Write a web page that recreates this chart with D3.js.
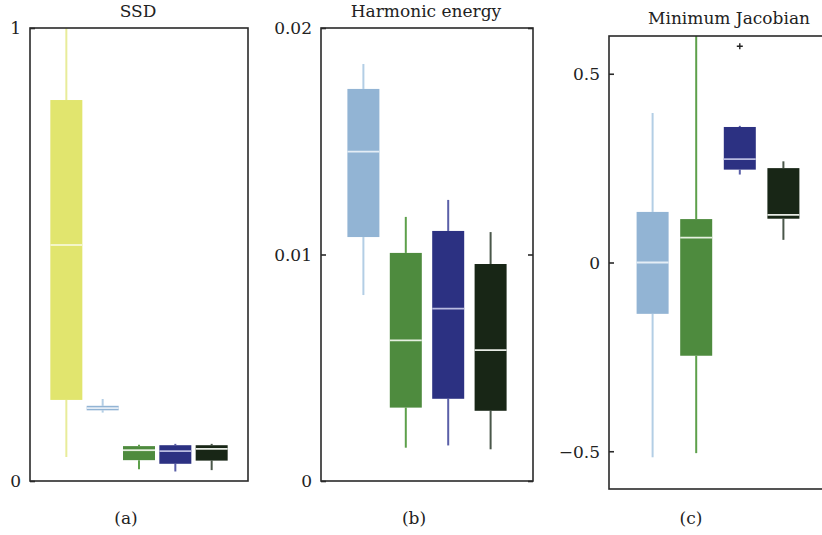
<!DOCTYPE html>
<html>
<head>
<meta charset="utf-8">
<script src="https://cdn.jsdelivr.net/npm/d3@7"></script>
<style>
  body { margin: 0; background: #fff; }
  svg { display: block; }
  svg text { font-family: "DejaVu Serif", "Liberation Serif", serif; }
  .frame { fill: none; stroke: #2a2a2a; stroke-width: 1.6; }
  .tick text { font-size: 17px; fill: #222; }
  .tick line { stroke: #2a2a2a; stroke-width: 1.6; }
  .title, .caption { font-size: 17px; fill: #222; text-anchor: middle; }
</style>
</head>
<body>
<svg width="822" height="535"></svg>
<script>
// box stats: [whisker low, q1, median, q3, whisker high]
const ssdStats = [
  [0.053, 0.179, 0.521, 0.841, 1.0],
  [0.151, 0.156, 0.161, 0.166, 0.181],
  [0.026, 0.046, 0.068, 0.077, 0.080],
  [0.021, 0.038, 0.066, 0.079, 0.082],
  [0.024, 0.045, 0.071, 0.079, 0.082]
]
const harmonicStats = [
  [0.00821, 0.01077, 0.01454, 0.01731, 0.01841],
  [0.00147, 0.00324, 0.00621, 0.01007, 0.01166],
  [0.00157, 0.00363, 0.00761, 0.01104, 0.01241],
  [0.00140, 0.00310, 0.00578, 0.00958, 0.01099]
]
const jacobianStats = [
  [-0.516, -0.136, 0.000, 0.134, 0.396],
  [-0.505, -0.247, 0.066, 0.115, 0.600],
  [0.233, 0.246, 0.274, 0.359, 0.362],
  [0.060, 0.116, 0.126, 0.250, 0.268]
]
// outliers: [box index, value]
const jacobianOutliers = [[2, 0.573]]

const ssdTicks = [0, 1]
const harmonicTicks = [0, 0.01, 0.02]
const jacobianTicks = [-0.5, 0, 0.5]

const titles = ["SSD", "Harmonic energy", "Minimum Jacobian"]
const captions = ["(a)", "(b)", "(c)"]

const palette = {
  yellow: { fill: "#e1e56e", whisker: "#e8ec9a", median: "#f4f6c8" },
  light:  { fill: "#92b4d4", whisker: "#b3cee5", median: "#e4edf6" },
  green:  { fill: "#4e8b3e", whisker: "#5da04b", median: "#e6f0e0" },
  blue:   { fill: "#2c3182", whisker: "#5a5fa8", median: "#b9bbe0" },
  dark:   { fill: "#182616", whisker: "#4a574a", median: "#e8ece6" }
}

const panels = [
  { stats: ssdStats, colors: ["yellow", "light", "green", "blue", "dark"],
    domain: [0, 1], ticks: ssdTicks, fmt: d => d3.format("")(d),
    left: 30, right: 248, top: 28, bottom: 481, rightTicks: false,
    titleY: 17, outliers: [] },
  { stats: harmonicStats, colors: ["light", "green", "blue", "dark"],
    domain: [0, 0.02], ticks: harmonicTicks, fmt: d => d === 0 ? "0" : d3.format(".2f")(d),
    left: 321, right: 533, top: 28, bottom: 481, rightTicks: true,
    titleY: 17, outliers: [] },
  { stats: jacobianStats, colors: ["light", "green", "blue", "dark"],
    domain: [-0.6, 0.6], ticks: jacobianTicks, fmt: d => d === 0 ? "0" : (d < 0 ? "\u2212" : "") + d3.format(".1f")(Math.abs(d)),
    left: 609, right: 827, top: 36, bottom: 489, rightTicks: false,
    titleY: 24, outliers: jacobianOutliers }
]

const svg = d3.select("svg")
const boxW = 32

panels.forEach((p, pi) => {
  const n = p.stats.length
  const x = d3.scaleLinear().domain([0, n + 1]).range([p.left, p.right])
  const y = d3.scaleLinear().domain(p.domain).range([p.bottom, p.top])
  const g = svg.append("g")

  const axis = d3.axisLeft(y).tickValues(p.ticks).tickSize(-5).tickPadding(9).tickFormat(p.fmt)
  const ax = g.append("g").attr("transform", `translate(${p.left},0)`).call(axis)
  ax.select(".domain").remove()
  ax.selectAll(".tick text").attr("dy", "0.35em")

  if (p.rightTicks) {
    const axR = g.append("g").attr("transform", `translate(${p.right},0)`)
      .call(d3.axisRight(y).tickValues(p.ticks).tickSize(-5).tickFormat(""))
    axR.select(".domain").remove()
  }

  const boxes = g.selectAll(".box").data(p.stats).join("g").attr("class", "box")
  boxes.each(function(d, i) {
    const c = palette[p.colors[i]]
    const cx = x(i + 1)
    const b = d3.select(this)
    b.append("line").attr("x1", cx).attr("x2", cx).attr("y1", y(d[0])).attr("y2", y(d[1]))
      .attr("stroke", c.whisker).attr("stroke-width", 2)
    b.append("line").attr("x1", cx).attr("x2", cx).attr("y1", y(d[3])).attr("y2", y(d[4]))
      .attr("stroke", c.whisker).attr("stroke-width", 2)
    b.append("rect").attr("x", cx - boxW / 2).attr("width", boxW)
      .attr("y", y(d[3])).attr("height", y(d[1]) - y(d[3])).attr("fill", c.fill)
    b.append("line").attr("x1", cx - boxW / 2).attr("x2", cx + boxW / 2)
      .attr("y1", y(d[2])).attr("y2", y(d[2]))
      .attr("stroke", c.median).attr("stroke-width", 1.8)
  })

  p.outliers.forEach(([i, v]) => {
    const cx = x(i + 1), cy = y(v)
    g.append("path").attr("d", `M${cx - 3},${cy}H${cx + 3}M${cx},${cy - 3}V${cy + 3}`)
      .attr("stroke", "#222").attr("stroke-width", 1.4)
  })

  g.append("rect").attr("class", "frame")
    .attr("x", p.left).attr("y", p.top)
    .attr("width", p.right - p.left).attr("height", p.bottom - p.top)

  const mid = pi === 2 ? 729 : (p.left + p.right) / 2 - 1
  g.append("text").attr("class", "title").attr("x", mid).attr("y", p.titleY).text(titles[pi])
  const capX = pi === 2 ? 691 : (p.left + p.right) / 2 - 13
  g.append("text").attr("class", "caption").attr("x", capX).attr("y", 524).text(captions[pi])
})
</script>
</body>
</html>
